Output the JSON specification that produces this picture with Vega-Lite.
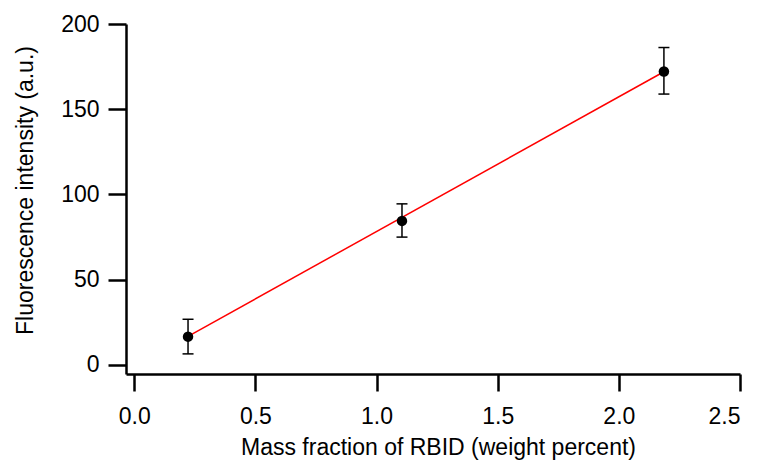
{
  "$schema": "https://vega.github.io/schema/vega-lite/v6.json",
  "autosize": "none",
  "width": 614,
  "height": 350,
  "padding": {"left": 126, "top": 24, "right": 23, "bottom": 88},
  "background": "white",
  "config": {
    "view": {"stroke": null},
    "font": "Liberation Sans",
    "axis": {
      "grid": false,
      "domainColor": "#000000",
      "domainWidth": 2.5,
      "tickColor": "#000000",
      "tickWidth": 2.5,
      "labelColor": "#000000",
      "titleColor": "#000000",
      "labelFont": "Liberation Sans",
      "titleFont": "Liberation Sans",
      "labelFontSize": 23,
      "titleFontSize": 23,
      "titleFontWeight": "normal"
    }
  },
  "datasets": {
    "points": [
      {"mass": 0.222, "intensity": 16.6, "low": 6.5, "high": 26.8},
      {"mass": 1.105, "intensity": 84.5, "low": 75.0, "high": 94.5},
      {"mass": 2.186, "intensity": 172.1, "low": 158.9, "high": 186.2}
    ],
    "fit": [
      {"mass": 0.222, "fitted": 16.8},
      {"mass": 2.186, "fitted": 172.0}
    ]
  },
  "layer": [
    {
      "data": {"name": "fit"},
      "mark": {"type": "line", "color": "#ff0000", "strokeWidth": 1.5},
      "encoding": {
        "x": {
          "field": "mass", "type": "quantitative",
          "scale": {"domain": [-0.034, 2.5], "nice": false, "zero": false},
          "axis": {
            "title": "Mass fraction of RBID (weight percent)",
            "values": [0, 0.5, 1, 1.5, 2, 2.5],
            "format": ".1f",
            "tickSize": 17,
            "labelPadding": 32,
            "labelBaseline": "alphabetic",
            "titleBaseline": "alphabetic",
            "titleX": 312,
            "titleY": 80,
            "titleAnchor": "middle"
          }
        },
        "y": {
          "field": "fitted", "type": "quantitative",
          "scale": {"domain": [-5.3, 200], "nice": false, "zero": false},
          "axis": {
            "title": "Fluorescence intensity (a.u.)",
            "values": [0, 50, 100, 150, 200],
            "tickSize": 18,
            "labelPadding": 9,
            "titleAngle": 270,
            "titleBaseline": "alphabetic",
            "titleX": -94,
            "titleY": 166,
            "titleAnchor": "middle"
          }
        }
      }
    },
    {
      "data": {"name": "points"},
      "mark": {"type": "rule", "color": "#000000", "strokeWidth": 1.5},
      "encoding": {
        "x": {"field": "mass", "type": "quantitative"},
        "y": {"field": "low", "type": "quantitative"},
        "y2": {"field": "high"}
      }
    },
    {
      "data": {"name": "points"},
      "mark": {"type": "tick", "orient": "horizontal", "color": "#000000", "opacity": 1, "thickness": 1.5, "size": 11},
      "encoding": {
        "x": {"field": "mass", "type": "quantitative"},
        "y": {"field": "low", "type": "quantitative"}
      }
    },
    {
      "data": {"name": "points"},
      "mark": {"type": "tick", "orient": "horizontal", "color": "#000000", "opacity": 1, "thickness": 1.5, "size": 11},
      "encoding": {
        "x": {"field": "mass", "type": "quantitative"},
        "y": {"field": "high", "type": "quantitative"}
      }
    },
    {
      "data": {"name": "points"},
      "mark": {"type": "circle", "color": "#000000", "opacity": 1, "size": 110},
      "encoding": {
        "x": {"field": "mass", "type": "quantitative"},
        "y": {"field": "intensity", "type": "quantitative"}
      }
    }
  ]
}
